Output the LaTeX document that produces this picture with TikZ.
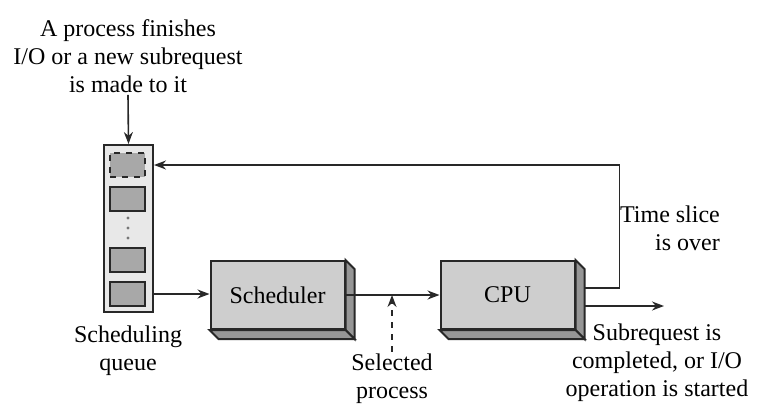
\documentclass[tikz,border=0pt]{standalone}
\usepackage{fontspec}
\setmainfont{Liberation Serif}
\usepackage{tikz}
\usetikzlibrary{arrows.meta,positioning,calc}
\definecolor{faceGray}{RGB}{206,206,206}
\definecolor{sideGray}{RGB}{150,150,150}
\definecolor{queueGray}{RGB}{232,232,232}
\definecolor{slotGray}{RGB}{168,168,168}
\definecolor{lineGray}{RGB}{40,40,40}

\begin{document}
\begin{tikzpicture}[x=0.5pt, y=-0.5pt,
    arr/.style={-{Stealth[length=6pt,width=4.5pt]}, line width=0.8pt, lineGray},
    box/.style={draw=lineGray, line width=1pt, fill=faceGray,
                minimum width=67pt, minimum height=34pt, inner sep=0pt,
                font=\fontsize{12}{14}\selectfont},
    slot/.style={draw=lineGray, line width=1pt, fill=slotGray,
                 minimum width=17.5pt, minimum height=12pt, inner sep=0pt},
    lbl/.style={align=center, inner sep=1pt, font=\fontsize{12}{14}\selectfont}]
  \useasboundingbox (0,0) rectangle (761,412);

  % queue with its slots
  \node[draw=lineGray, line width=1pt, fill=queueGray, minimum width=24.5pt,
        minimum height=83.5pt, inner sep=0pt] (queue) at (128.5,228.5) {};
  \node[slot, dashed] (slot1) at (127.5,165) {};
  \node[slot] (slot2) at (127.5,199) {};
  \node[slot] (slot3) at (127.5,260) {};
  \node[slot] (slot4) at (127.5,294) {};
  \foreach \dy in {218,228,238}
    \fill[slotGray!70!black] (128,\dy) circle (0.8pt);

  % boxes with their sides
  \node[box] (sched) at (277.5,295) {Scheduler};
  \node[box] (cpu) at (507.5,295) {CPU};
  \foreach \b in {sched,cpu} {
    \filldraw[sideGray, draw=lineGray, line width=1pt]
      (\b.north east) -- ++(9,9) -- ($(\b.south east)+(9,9)$) -- (\b.south east) -- cycle;
    \filldraw[sideGray, draw=lineGray, line width=1pt]
      (\b.south west) -- ++(9,9) -- ($(\b.south east)+(9,9)$) -- (\b.south east) -- cycle;
  }

  % labels
  \node[lbl] (arrival) at (128,56) {A process finishes\\I/O or a new subrequest\\is made to it};
  \node[lbl] (qname) at (128,351) {Scheduling\\queue};
  \node[lbl] (sel) at (392,379) {Selected\\process};
  \node[lbl, align=right] (slice) at (670,228) {Time slice\\is over};
  \node[lbl] (donetext) at (657,363) {Subrequest is\\completed, or I/O\\operation is started};
  \coordinate (done) at (664,306);

  % connectors
  \draw[arr] (arrival.south) -- (queue.north);
  \draw[arr] (slot4 -| queue.east) -- (slot4 -| sched.west);
  \draw[arr] (sched.east) -- (cpu.west);
  \draw[arr, dashed] (sel.north) -- (sel.north |- sched.east);
  \draw[arr] ([shift={(9,-7)}]cpu.east) -- ++(35,0) |- (slot1 -| queue.east);
  \draw[arr] ([shift={(9,11)}]cpu.east) -- (done);
\end{tikzpicture}
\end{document}
